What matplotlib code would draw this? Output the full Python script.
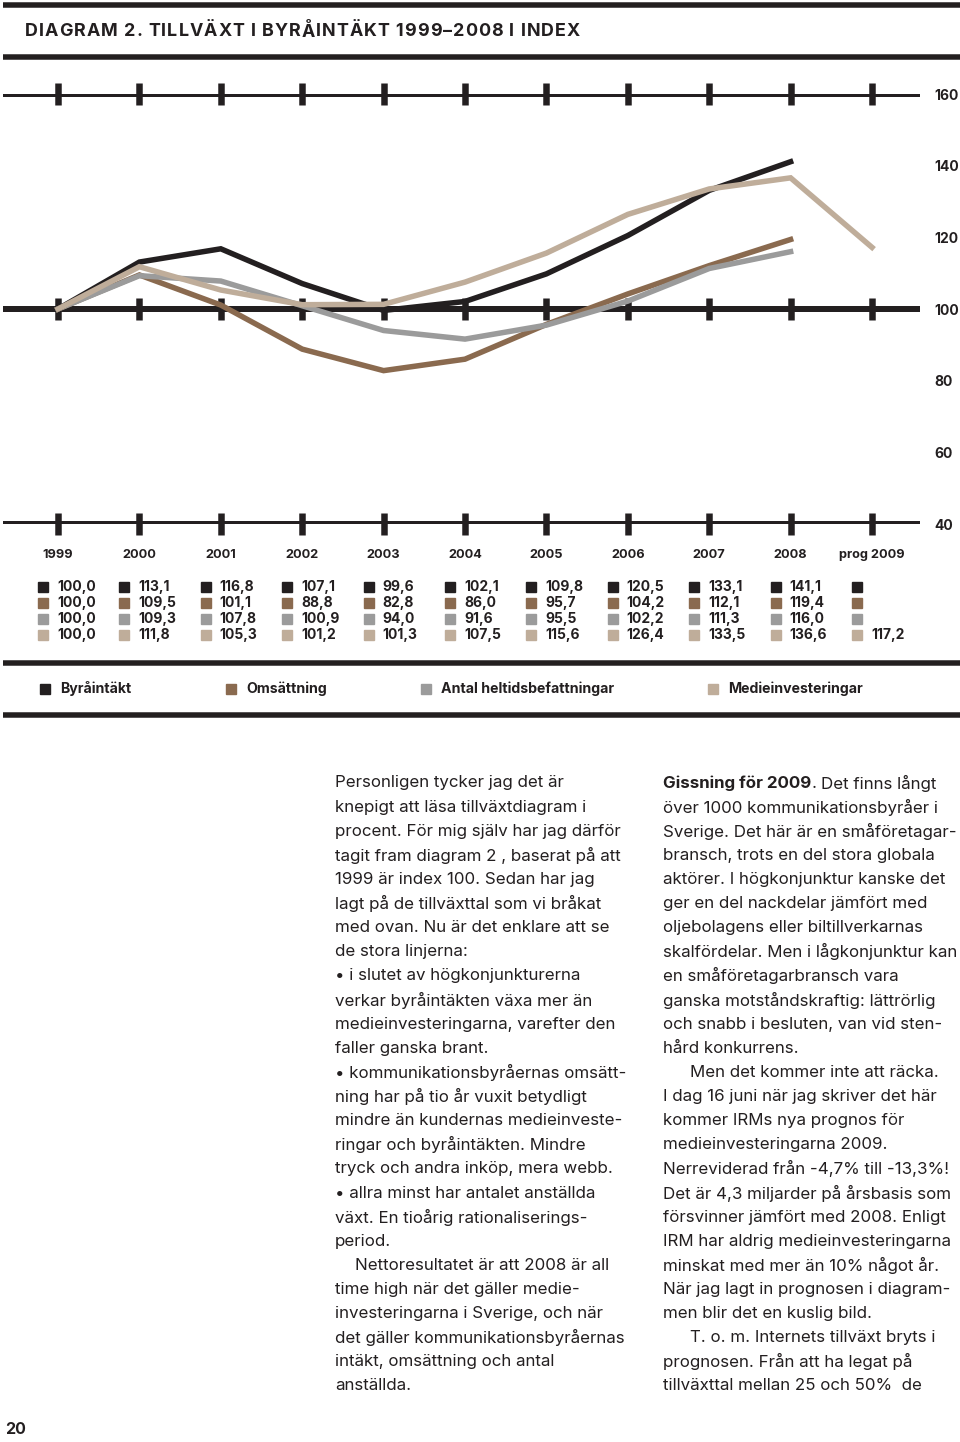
import matplotlib
matplotlib.use("Agg")
import matplotlib.pyplot as plt
from matplotlib.transforms import blended_transform_factory

plt.rcParams['font.family'] = ['Inter', 'DejaVu Sans']

# ---------------- data ----------------
years = [1999, 2000, 2001, 2002, 2003, 2004, 2005, 2006, 2007, 2008]
year_labels = ['1999', '2000', '2001', '2002', '2003', '2004', '2005',
               '2006', '2007', '2008', 'prog 2009']
byraintakt = [100.0, 113.1, 116.8, 107.1, 99.6, 102.1, 109.8, 120.5, 133.1, 141.1]
omsattning = [100.0, 109.5, 101.1, 88.8, 82.8, 86.0, 95.7, 104.2, 112.1, 119.4]
antal = [100.0, 109.3, 107.8, 100.9, 94.0, 91.6, 95.5, 102.2, 111.3, 116.0]
media_years = [1999, 2000, 2001, 2002, 2003, 2004, 2005, 2006, 2007, 2008, 2009]
medieinv = [100.0, 111.8, 105.3, 101.2, 101.3, 107.5, 115.6, 126.4, 133.5, 136.6, 117.2]
series_names = ['Byråintäkt', 'Omsättning', 'Antal heltidsbefattningar', 'Medieinvesteringar']
yticks = [40, 60, 80, 100, 120, 140, 160]
bar_levels = [40, 100, 160]

title = 'DIAGRAM 2. TILLVÄXT I BYRÅINTÄKT 1999–2008 I INDEX'

left_col = [
    "Personligen tycker jag det är",
    "knepigt att läsa tillväxtdiagram i",
    "procent. För mig själv har jag därför",
    "tagit fram diagram 2 , baserat på att",
    "1999 är index 100. Sedan har jag",
    "lagt på de tillväxttal som vi bråkat",
    "med ovan. Nu är det enklare att se",
    "de stora linjerna:",
    "• i slutet av högkonjunkturerna",
    "verkar byråintäkten växa mer än",
    "medieinvesteringarna, varefter den",
    "faller ganska brant.",
    "• kommunikationsbyråernas omsätt-",
    "ning har på tio år vuxit betydligt",
    "mindre än kundernas medieinveste-",
    "ringar och byråintäkten. Mindre",
    "tryck och andra inköp, mera webb.",
    "• allra minst har antalet anställda",
    "växt. En tioårig rationaliserings-",
    "period.",
    ">Nettoresultatet är att 2008 är all",
    "time high när det gäller medie-",
    "investeringarna i Sverige, och när",
    "det gäller kommunikationsbyråernas",
    "intäkt, omsättning och antal",
    "anställda.",
]
right_col = [
    "Det finns långt",
    "över 1000 kommunikationsbyråer i",
    "Sverige. Det här är en småföretagar-",
    "bransch, trots en del stora globala",
    "aktörer. I högkonjunktur kanske det",
    "ger en del nackdelar jämfört med",
    "oljebolagens eller biltillverkarnas",
    "skalfördelar. Men i lågkonjunktur kan",
    "en småföretagarbransch vara",
    "ganska motståndskraftig: lättrörlig",
    "och snabb i besluten, van vid sten-",
    "hård konkurrens.",
    ">Men det kommer inte att räcka.",
    "I dag 16 juni när jag skriver det här",
    "kommer IRMs nya prognos för",
    "medieinvesteringarna 2009.",
    "Nerreviderad från -4,7% till -13,3%!",
    "Det är 4,3 miljarder på årsbasis som",
    "försvinner jämfört med 2008. Enligt",
    "IRM har aldrig medieinvesteringarna",
    "minskat med mer än 10% något år.",
    "När jag lagt in prognosen i diagram-",
    "men blir det en kuslig bild.",
    ">T. o. m. Internets tillväxt bryts i",
    "prognosen. Från att ha legat på",
    "tillväxttal mellan 25 och 50%  de",
]
right_bold = "Gissning för 2009"

# ---------------- style ----------------
C_BLACK = '#231f20'
C_BROWN = '#8a6a4f'
C_GRAY = '#9b9b9b'
C_TAN = '#bfad9a'
colors = [C_BLACK, C_BROWN, C_GRAY, C_TAN]
PX = 0.72  # points per pixel at dpi 100

W, H = 960, 1442
fig = plt.figure(figsize=(W / 100, H / 100), dpi=100)
page = fig.add_axes([0, 0, 1, 1])
page.set_xlim(0, W)
page.set_ylim(H, 0)
page.axis('off')

# chart axes: 1999 at x=58, 2009 at x=872, 160 at y=94, 40 at y=524
px_per_year = (872 - 58) / 10
ax_left, ax_right = 3, 920
y160, y40 = 94, 524
ax = fig.add_axes([ax_left / W, 1 - y40 / H, (ax_right - ax_left) / W, (y40 - y160) / H])
ax.set_xlim(1999 - (58 - ax_left) / px_per_year, 2009 + (ax_right - 872) / px_per_year)
ax.set_ylim(40, 160)
ax.patch.set_alpha(0)
for s in ax.spines.values():
    s.set_visible(False)
ax.set_xticks([])
ax.yaxis.tick_right()
ax.set_yticks(yticks)
ax.set_yticklabels([str(v) for v in yticks], fontsize=10, fontweight='bold', color=C_BLACK)
ax.tick_params(axis='y', length=0, pad=10)

px_per_unit = (y40 - y160) / 120
tick_half = 11 / px_per_unit
for lv in bar_levels:
    ax.axhline(lv, color=C_BLACK, lw=6 * PX, zorder=1, solid_capstyle='butt')
    ax.vlines(media_years, lv - tick_half, lv + tick_half, color=C_BLACK,
              lw=6.5 * PX, zorder=1, clip_on=False)

lw = 5.5 * PX
ax.plot(years, omsattning, color=C_BROWN, lw=lw, zorder=3, solid_joinstyle='miter', clip_on=False)
ax.plot(years, antal, color=C_GRAY, lw=lw, zorder=4, solid_joinstyle='miter', clip_on=False)
ax.plot(years, byraintakt, color=C_BLACK, lw=lw, zorder=5, solid_joinstyle='miter', clip_on=False)
ax.plot(media_years, medieinv, color=C_TAN, lw=lw, zorder=6, solid_joinstyle='miter', clip_on=False)

# ---------------- page bars ----------------
for yb in [5, 57, 663, 715]:
    page.hlines(yb, 3, 960, color=C_BLACK, lw=5.5 * PX)

renderer = fig.canvas.get_renderer()


def text_width(s, **kw):
    t = page.text(0, 0, s, **kw)
    w = t.get_window_extent(renderer).width
    t.remove()
    return w


def tracked_text(x0, y, s, tracking, **kw):
    bar_w = text_width('|', **kw)
    for i, ch in enumerate(s):
        if ch == ' ':
            continue
        prefix_w = text_width(s[:i] + '|', **kw) - bar_w if i > 0 else 0
        page.text(x0 + prefix_w + i * tracking, y, ch, **kw)


tracked_text(25, 32, title, 1.0, fontsize=12.9, fontweight='bold', color=C_BLACK,
             va='center', ha='left')

# ---------------- year labels & table ----------------
bt = blended_transform_factory(ax.transData, page.transData)
all_series = [byraintakt, omsattning, antal]
row_y = [587, 603, 619, 635]
sq_off = 15 / px_per_year
txt_off = 1 / px_per_year
for i, lab in enumerate(year_labels):
    yr = media_years[i]
    page.text(yr, 555, lab, transform=bt, ha='center', va='center', fontsize=9.2,
              fontweight='bold', color=C_BLACK)
    for r in range(4):
        page.plot([yr - sq_off], [row_y[r]], marker='s', ms=9.5 * PX, color=colors[r],
                  transform=bt, clip_on=False, lw=0)
    vals = []
    for r, ser in enumerate(all_series):
        if i < len(ser):
            vals.append((r, ser[i]))
    vals.append((3, medieinv[i]))
    for r, v in vals:
        page.text(yr - txt_off, row_y[r], f"{v:.1f}".replace('.', ','), transform=bt,
                  ha='left', va='center', fontsize=10, fontweight='bold', color=C_BLACK)

# ---------------- legend ----------------
leg_sq = [45, 231, 426, 713]
for i, name in enumerate(series_names):
    page.plot([leg_sq[i]], [689], marker='s', ms=9.5 * PX, color=colors[i], lw=0)
    page.text(leg_sq[i] + 15, 689, name, ha='left', va='center', fontsize=10.2,
              fontweight='bold', color=C_BLACK)

# ---------------- body text ----------------
body_fs = 12.2
line_h = (1386 - 783) / 25


def draw_col(x0, lines, indent, bold_first=None):
    for k, ln in enumerate(lines):
        y = 783 + k * line_h
        x = x0
        if ln.startswith('>'):
            ln = ln[1:]
            x += indent
        if k == 0 and bold_first:
            tb = page.text(x, y, bold_first, fontsize=body_fs, fontweight='bold',
                           color=C_BLACK, va='center', ha='left')
            x += tb.get_window_extent(renderer).width
            tb2 = page.text(x, y, '.', fontsize=body_fs, color=C_BLACK, va='center', ha='left')
            x += tb2.get_window_extent(renderer).width + 5
        page.text(x, y, ln, fontsize=body_fs, color=C_BLACK, va='center', ha='left')


draw_col(335, left_col, 20)
draw_col(663, right_col, 27, bold_first=right_bold)

page.text(5, 1430, '20', fontsize=11.5, fontweight='bold', color=C_BLACK, va='center', ha='left')

fig.savefig('out.png', dpi=100)
